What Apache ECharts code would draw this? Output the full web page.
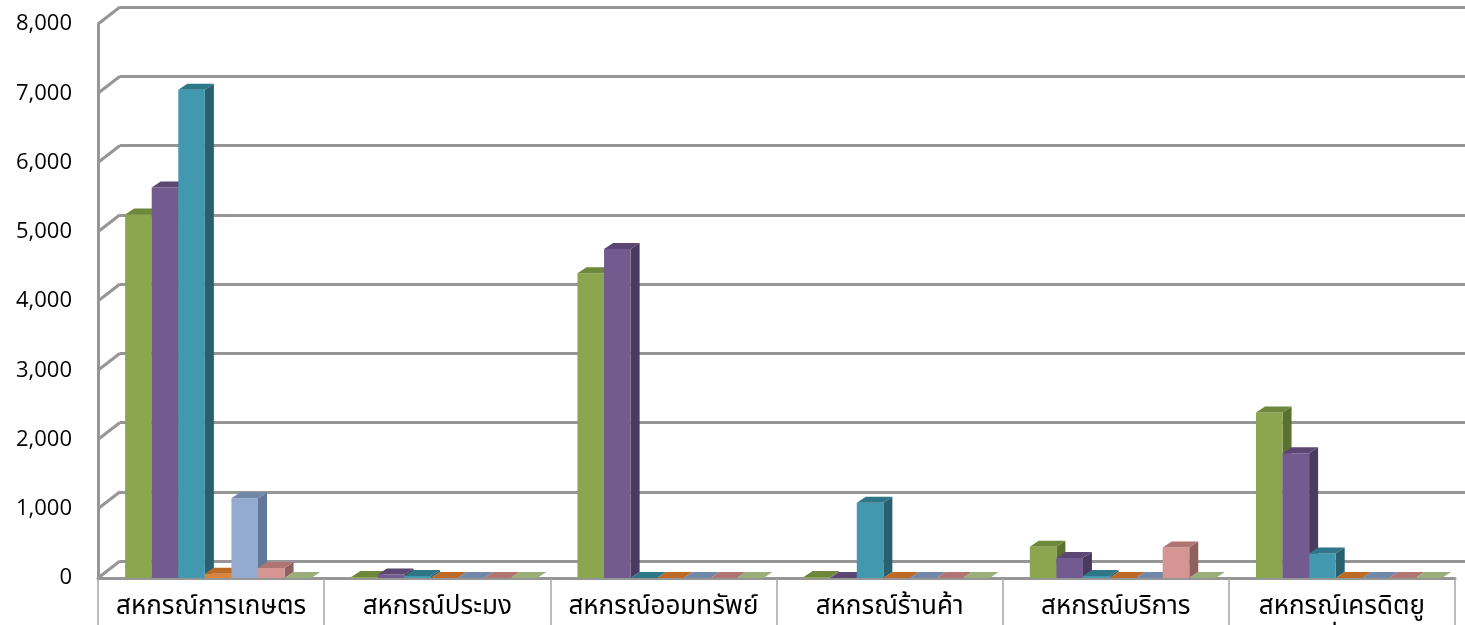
<!DOCTYPE html>
<html>
<head>
<meta charset="utf-8">
<script src="https://cdn.jsdelivr.net/npm/echarts@6/dist/echarts.min.js"></script>
<style>
  html, body { margin: 0; padding: 0; background: #fff; }
  #main { width: 1465px; height: 625px; }
</style>
</head>
<body>
<div id="main"></div>
<script>
var categories = ['สหกรณ์การเกษตร', 'สหกรณ์ประมง', 'สหกรณ์ออมทรัพย์', 'สหกรณ์ร้านค้า', 'สหกรณ์บริการ', 'สหกรณ์เครดิตยู\nเนี่ยน'];
// one array per series, in category order
var s1 = [5250, 15, 4400, 15, 450, 2390];
var s2 = [5640, 50, 4750, 0, 290, 1800];
var s3 = [7050, 30, 0, 1085, 30, 355];
var s4 = [60, 0, 0, 0, 0, 0];
var s5 = [1150, 0, 0, 0, 0, 0];
var s6 = [145, 0, 0, 0, 440, 0];
var s7 = [0, 0, 0, 0, 0, 0];
var yTicks = [0, 1000, 2000, 3000, 4000, 5000, 6000, 7000, 8000];

// front, top, side shades for each series
var shades = [
    ['#8ba64e', '#6d883a', '#5b7130'],
    ['#735a8f', '#5b4674', '#4a3a60'],
    ['#4198af', '#2f7689', '#29606e'],
    ['#da853c', '#bd6a26', '#9a5520'],
    ['#95aacf', '#7188aa', '#62789a'],
    ['#d49593', '#b07573', '#8e6060'],
    ['#b3c78f', '#99ae78', '#7e9262']
];

var chart = echarts.init(document.getElementById('main'));

function barRenderer(si) {
    return function (params, api) {
        var cat = api.value(0);
        var top = api.coord([cat, api.value(1)]);
        var base = api.coord([cat, 0]);
        var band = api.size([1, 0])[0];
        var bw = band * 0.1175;
        var dx = 9, dy = 6;
        var x0 = base[0] - band / 2 + band * 0.12 + si * bw;
        var x1 = x0 + bw;
        var yt = top[1], yb = base[1];
        var c = shades[si];
        var children = [];
        if (yb - yt > 0) {
            children.push({
                type: 'polygon',
                shape: {points: [[x1, yt], [x1 + dx, yt - dy], [x1 + dx, yb - dy], [x1, yb]]},
                style: {fill: c[2]}
            });
            children.push({
                type: 'rect',
                shape: {x: x0, y: yt, width: bw, height: yb - yt},
                style: {fill: c[0]}
            });
        }
        children.push({
            type: 'polygon',
            shape: {points: [[x0, yt], [x1, yt], [x1 + dx, yt - dy], [x0 + dx, yt - dy]]},
            style: {fill: c[1]}
        });
        return {type: 'group', children: children};
    };
}

var seriesData = [s1, s2, s3, s4, s5, s6, s7];
var series = [];

// diagonal edges of the left side wall
series.push({
    type: 'custom',
    xAxisIndex: 0,
    yAxisIndex: 0,
    silent: true,
    data: yTicks.map(function (v) { return [0, v]; }),
    renderItem: function (params, api) {
        var p = api.coord([0, api.value(1)]);
        var x = p[0] - api.size([1, 0])[0] / 2;
        return {
            type: 'line',
            shape: {x1: x, y1: p[1], x2: x + 22, y2: p[1] - 17},
            style: {stroke: '#969696', lineWidth: 3}
        };
    }
});

seriesData.forEach(function (arr, si) {
    series.push({
        type: 'custom',
        name: 'series' + (si + 1),
        xAxisIndex: 0,
        yAxisIndex: 0,
        data: arr.map(function (v, i) { return [i, v]; }),
        renderItem: barRenderer(si)
    });
});

chart.setOption({
    animation: false,
    backgroundColor: '#fff',
    grid: [
        {left: 98, right: 10, top: 24, bottom: 47, containLabel: false, outerBoundsMode: 'none'},
        {left: 120, right: 0, top: 7, bottom: 64, containLabel: false, outerBoundsMode: 'none'}
    ],
    xAxis: [
        {
            type: 'category',
            gridIndex: 0,
            data: categories,
            axisLine: {lineStyle: {color: '#969696', width: 3}},
            axisTick: {show: true, interval: 0, length: 50, lineStyle: {color: '#a6a6a6', width: 1.5}},
            axisLabel: {
                interval: 0,
                color: '#000',
                fontSize: 26,
                margin: 14,
                lineHeight: 34,
                verticalAlign: 'top',
                fontFamily: '"Noto Sans Thai", "Noto Sans", Tahoma, sans-serif'
            }
        },
        {
            type: 'value',
            gridIndex: 1,
            show: false
        }
    ],
    yAxis: [
        {
            type: 'value',
            gridIndex: 0,
            min: 0,
            max: 8000,
            interval: 1000,
            axisLine: {show: true, lineStyle: {color: '#969696', width: 3}},
            axisTick: {show: false},
            splitLine: {show: false},
            axisLabel: {
                color: '#000',
                fontSize: 22,
                margin: 26,
                fontFamily: '"Open Sans", "Noto Sans", sans-serif',
                formatter: function (v) { return v.toLocaleString('en-US'); }
            }
        },
        {
            type: 'value',
            gridIndex: 1,
            min: 0,
            max: 8000,
            interval: 1000,
            axisLine: {show: false},
            axisTick: {show: false},
            axisLabel: {show: false},
            splitLine: {show: true, lineStyle: {color: '#969696', width: 3}}
        }
    ],
    series: series
});

window.onresize = chart.resize;
</script>
</body>
</html>
